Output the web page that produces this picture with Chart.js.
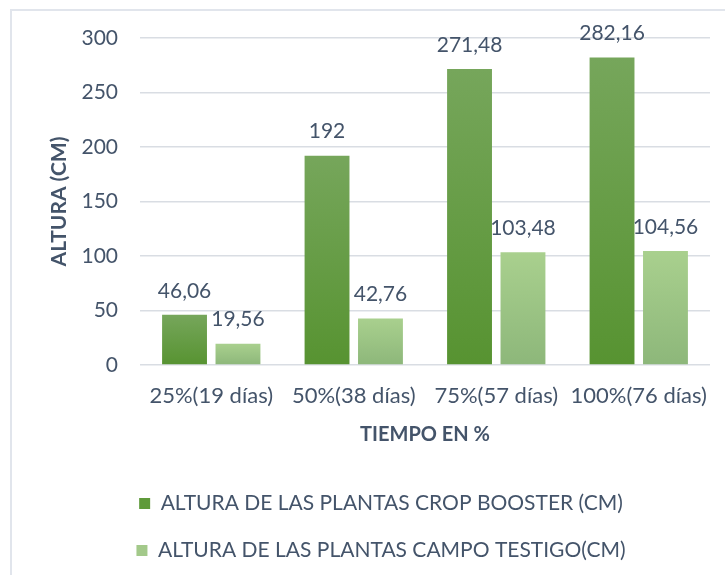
<!DOCTYPE html>
<html>
<head>
<meta charset="utf-8">
<script src="https://cdn.jsdelivr.net/npm/chart.js@4.4.0/dist/chart.umd.min.js"></script>
<style>
  html, body { margin: 0; padding: 0; background: #fff; overflow: hidden; }
  #frame { position: absolute; left: 10px; top: 9px; width: 760px; height: 600px; border: 2px solid #e1e5ec; }
  #wrap { position: absolute; left: 11px; top: 10px; width: 745px; height: 565px; }
</style>
</head>
<body>
<div id="frame"></div>
<div id="wrap"><canvas id="c" width="745" height="565"></canvas></div>
<script>
  const categories = ['25%(19 días)', '50%(38 días)', '75%(57 días)', '100%(76 días)'];
  const cropBooster = [46.06, 192, 271.48, 282.16];
  const campoTestigo = [19.56, 42.76, 103.48, 104.56];
  const seriesNames = ['ALTURA DE LAS PLANTAS CROP BOOSTER (CM)', 'ALTURA DE LAS PLANTAS CAMPO TESTIGO(CM)'];
  const yTicks = [0, 50, 100, 150, 200, 250, 300];

  const textColor = '#44546a';
  const fontFamily = 'Lato, "Open Sans", sans-serif';

  // vertical gradient per bar, like the office style fill
  const barFill = (top, bottom, flat) => ctx => {
    const chart = ctx.chart;
    if (!chart.chartArea || ctx.type !== 'data') return flat;
    const y = chart.scales.y;
    const y0 = y.getPixelForValue(ctx.raw);
    const y1 = y.getPixelForValue(0);
    if (!isFinite(y0) || !isFinite(y1) || y0 === y1) return flat;
    const g = chart.ctx.createLinearGradient(0, y0, 0, y1);
    g.addColorStop(0, top);
    g.addColorStop(1, bottom);
    return g;
  };

  const dataLabels = {
    id: 'dataLabels',
    afterDatasetsDraw(chart) {
      const ctx = chart.ctx;
      ctx.save();
      ctx.font = '21px ' + fontFamily;
      ctx.fillStyle = textColor;
      ctx.textAlign = 'center';
      ctx.textBaseline = 'middle';
      chart.data.datasets.forEach((ds, i) => {
        chart.getDatasetMeta(i).data.forEach((bar, j) => {
          const txt = String(ds.data[j]).replace('.', ',');
          ctx.fillText(txt, bar.x, bar.y - 24);
        });
      });
      ctx.restore();
    }
  };

  new Chart(document.getElementById('c'), {
    type: 'bar',
    data: {
      labels: categories,
      datasets: [
        {
          label: seriesNames[0],
          data: cropBooster,
          backgroundColor: barFill('#76a65b', '#579331', '#65a040'),
          legendColor: '#5f9a3a',
        },
        {
          label: seriesNames[1],
          data: campoTestigo,
          backgroundColor: barFill('#a9d08e', '#8db77a', '#a3c98a'),
          legendColor: '#a3c98a',
        }
      ]
    },
    options: {
      responsive: false,
      animation: false,
      // left padding shifts the legend so it is centred like the original frame
      layout: { padding: { top: 28, left: 41, right: 46, bottom: 4 } },
      datasets: {
        bar: { categoryPercentage: 0.75, barPercentage: 0.84 }
      },
      scales: {
        x: {
          afterFit: s => { s.height = 102; },
          grid: { display: false, drawTicks: false },
          border: { display: false },
          ticks: { color: textColor, font: { family: fontFamily, size: 22 }, padding: 18, maxRotation: 0 },
          title: {
            display: true, text: 'TIEMPO EN %', color: textColor,
            font: { family: fontFamily, size: 20, weight: 'bold' }, padding: { top: 10, bottom: 20 }
          }
        },
        y: {
          min: 0, max: 300,
          afterBuildTicks: s => { s.ticks = yTicks.map(v => ({ value: v })); },
          afterFit: s => { s.width = 88; s.paddingTop = 0; },
          grid: { color: '#d9dde3', lineWidth: 1.5, drawTicks: false },
          border: { display: false },
          ticks: { color: textColor, font: { family: fontFamily, size: 21 }, padding: 22 },
          title: {
            display: true, text: 'ALTURA (CM)', color: textColor,
            font: { family: fontFamily, size: 21, weight: 'bold' }, padding: { top: -5.6, bottom: 0 }
          }
        }
      },
      plugins: {
        tooltip: { enabled: false },
        legend: {
          position: 'bottom',
          labels: {
            color: textColor,
            font: { family: fontFamily, size: 21 },
            boxWidth: 11, boxHeight: 11,
            padding: 26,
            generateLabels: chart => {
              const items = Chart.defaults.plugins.legend.labels.generateLabels(chart);
              items.forEach(it => {
                const ds = chart.data.datasets[it.datasetIndex];
                it.fillStyle = ds.legendColor;
                it.strokeStyle = ds.legendColor;
                it.lineWidth = 0;
              });
              return items;
            }
          }
        }
      }
    },
    plugins: [dataLabels]
  });
</script>
</body>
</html>
